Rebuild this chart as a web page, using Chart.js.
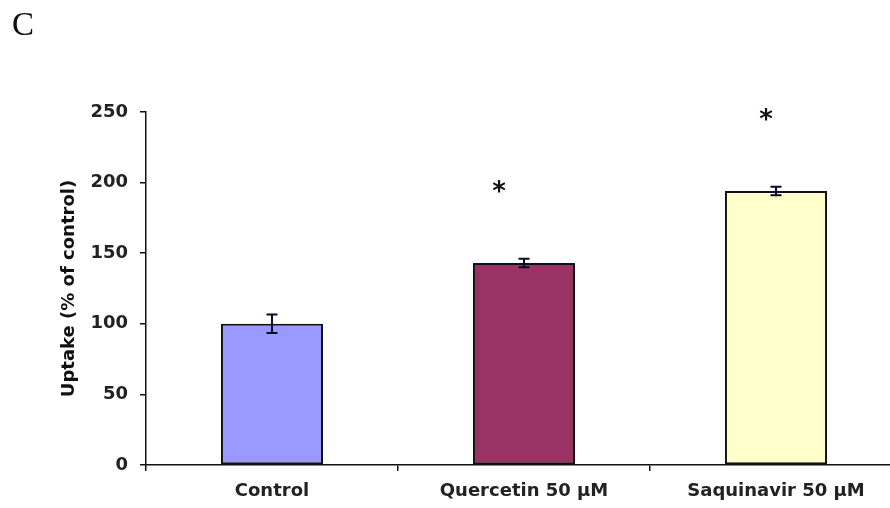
<!DOCTYPE html>
<html>
<head>
<meta charset="utf-8">
<script src="https://cdn.jsdelivr.net/npm/chart.js@4.4.1/dist/chart.umd.min.js"></script>
<style>
  html, body { margin: 0; padding: 0; background: #fff; overflow: hidden; }
  #wrap { position: relative; width: 910px; height: 508px; }
  #panel { position: absolute; left: 12px; top: 6px; font-family: "Liberation Serif", serif; font-size: 33px; color: #111; }
</style>
</head>
<body>
<div id="wrap">
  <canvas id="chart" width="910" height="508"></canvas>
  <div id="panel">C</div>
</div>
<script>
// Uptake of the probe substrate, expressed relative to the untreated control
const categories = ["Control", "Quercetin 50 µM", "Saquinavir 50 µM"];
const uptake = [100, 143, 194];
const uptakeErr = [6.5, 3, 3];
const significant = [false, true, true];
const yTicks = [0, 50, 100, 150, 200, 250];

const barColors = ["#9999FF", "#993366", "#FFFFCC"];
const tickFont = { family: "DejaVu Sans", size: 18, weight: "bold" };

// Error bars and significance markers drawn on top of the bars
const annotations = {
  id: "annotations",
  afterDatasetsDraw(chart, args, opts) {
    const ctx = chart.ctx;
    const meta = chart.getDatasetMeta(0);
    const y = chart.scales.y;
    ctx.save();
    meta.data.forEach((bar, i) => {
      const x = bar.x;
      const hi = y.getPixelForValue(uptake[i] + uptakeErr[i]);
      const lo = y.getPixelForValue(uptake[i] - uptakeErr[i]);
      ctx.strokeStyle = "#0a0a2a";
      ctx.lineWidth = 2;
      ctx.beginPath();
      ctx.moveTo(x, hi); ctx.lineTo(x, lo);
      ctx.moveTo(x - 5.5, hi); ctx.lineTo(x + 5.5, hi);
      ctx.moveTo(x - 5.5, lo); ctx.lineTo(x + 5.5, lo);
      ctx.stroke();
      if (significant[i]) {
        const top = y.getPixelForValue(uptake[i]);
        ctx.fillStyle = "#111";
        ctx.font = "bold 26px 'DejaVu Sans'";
        ctx.textAlign = "center";
        ctx.textBaseline = "middle";
        ctx.fillText("*", x + opts.starShift[i], top - 70);
      }
    });
    ctx.restore();
  }
};

new Chart(document.getElementById("chart"), {
  type: "bar",
  data: {
    labels: categories,
    datasets: [{
      data: uptake,
      backgroundColor: barColors,
      borderColor: "#111",
      borderWidth: 2,
      borderSkipped: false,
      barPercentage: 0.405,
      categoryPercentage: 1.0
    }]
  },
  options: {
    responsive: false,
    animation: false,
    layout: { padding: { left: 0, right: 8, top: 112, bottom: 3 } },
    plugins: {
      legend: { display: false },
      tooltip: { enabled: false },
      annotations: { starShift: [0, -25, -10] }
    },
    scales: {
      x: {
        offset: true,
        grid: { display: true, offset: true, drawOnChartArea: false, drawTicks: true, tickLength: 6, color: "#111", lineWidth: 1.5 },
        border: { display: true, color: "#111", width: 1.5 },
        ticks: { color: "#222", font: tickFont, padding: 10, maxRotation: 0 },
        afterFit(s) { s.height = 40; }
      },
      y: {
        min: 0, max: 250,
        afterBuildTicks(s) { s.ticks = yTicks.map(v => ({ value: v })); },
        grid: { display: true, drawOnChartArea: false, drawTicks: true, tickLength: 6, color: "#111", lineWidth: 1.5 },
        border: { display: true, color: "#111", width: 1.5 },
        ticks: { color: "#222", font: tickFont, padding: 12 },
        title: { display: true, text: "Uptake (% of control)", color: "#111", font: tickFont, padding: { top: 59, bottom: 0 } },
        afterFit(s) { s.width = 146; }
      }
    }
  },
  plugins: [annotations]
});
</script>
</body>
</html>
